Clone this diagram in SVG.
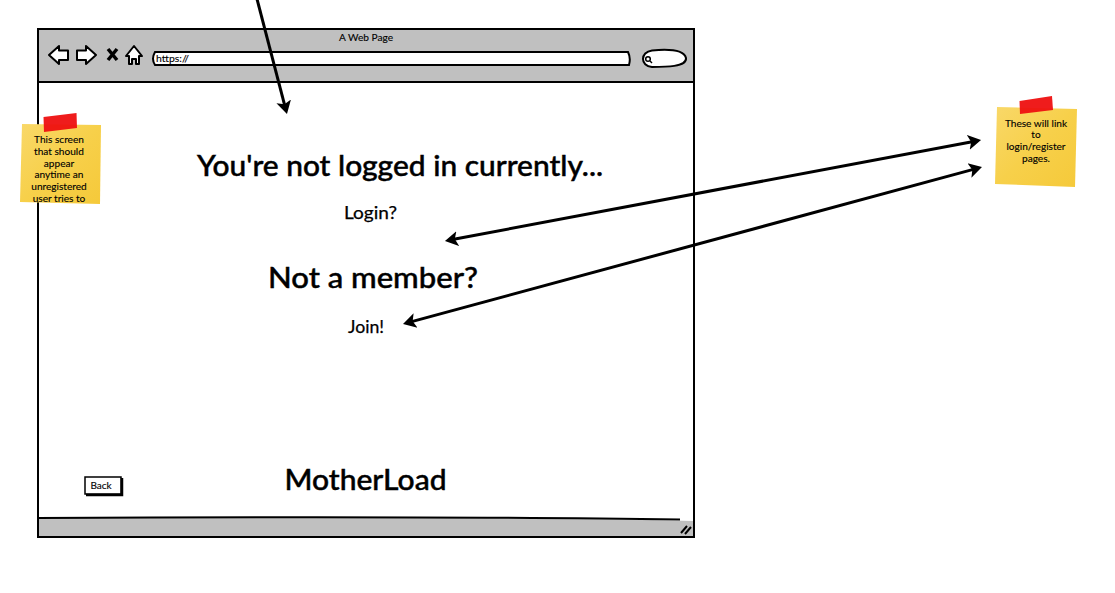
<svg xmlns="http://www.w3.org/2000/svg" width="1115" height="593" viewBox="0 0 1115 593">
<defs>
<marker id="ah" markerUnits="userSpaceOnUse" markerWidth="18" markerHeight="18" viewBox="0 0 18 18" refX="4" refY="9" orient="auto-start-reverse"><path d="M0 1.500 L13 9 L0 16.500 L3 9 Z" fill="#000"/></marker>
<linearGradient id="sticky" x1="0" y1="0" x2="1" y2="1"><stop offset="0" stop-color="#f9d869"/><stop offset=".5" stop-color="#f7d04a"/><stop offset="1" stop-color="#f5c93a"/></linearGradient>
</defs>
<style>
text{font-family:"Lato","Noto Sans","Liberation Sans",sans-serif;fill:#000;text-anchor:middle;stroke:#000;stroke-width:.2}
.big{font-size:29px;font-weight:500;stroke-width:.45}
.mid{font-size:17px;stroke-width:.25}
.note{font-size:10.100px;stroke-width:.12}
.small{font-size:10px;stroke-width:.12}
.ui{fill:none;stroke:#000;stroke-width:2}
.bar{fill:#c0c0c0}
.tape{fill:#ee1010;fill-opacity:.95}
.cn{fill:none;stroke:#000;stroke-width:3}
</style>
<rect width="1115" height="593" fill="#fff"/>
<g id="browser-window">
<rect x="38" y="29" width="656" height="508" fill="#fff"/>
<rect class="bar" x="38" y="29" width="656" height="53"/>
<path class="bar" d="M38 518 C250 517 520 517 694 521 V537 H38 Z"/>
<path class="ui" d="M38 29 H694 V537 H38 Z"/>
<path class="ui" d="M38 82 H694"/>
<path class="ui" d="M38 518 C250 517 520 517 680 519.500"/>
<path d="M681 533 L687 526 M685 534 L691 527" fill="none" stroke="#000" stroke-width="2"/>
<text class="small" x="366" y="41" textLength="54" lengthAdjust="spacingAndGlyphs">A Web Page</text>
</g>
<g id="browser-controls">
<path d="M49 55 L59 46 V50.500 H68 V60 H59 V64 Z" fill="#fff" stroke="#000" stroke-width="2" stroke-linejoin="round"/>
<path d="M96 55 L86 46 V50.500 H77 V60 H86 V64 Z" fill="#fff" stroke="#000" stroke-width="2" stroke-linejoin="round"/>
<path d="M108 49 L117 60 M117 49 L108 60" fill="none" stroke="#000" stroke-width="3.500"/>
<path d="M126 56 L134 46 L142 56 H139 V64 H136 V59 H132 V64 H129 V56 Z" fill="#fff" stroke="#000" stroke-width="2" stroke-linejoin="round"/>
</g>
<g id="address-bar">
<path d="M155 52 H628 Q631 58 629 65 L155 65 Q151 59 155 52 Z" fill="#fff" stroke="#000" stroke-width="2"/>
<text class="small" x="172.500" y="62" textLength="33" lengthAdjust="spacingAndGlyphs">https://</text>
</g>
<g id="search-box">
<path d="M652 50.500 C668 49 684 50 686 58 C687 67 665 67 652 67 C640 66 640 52 652 50.500 Z" fill="#fff" stroke="#000" stroke-width="2"/>
<circle cx="648" cy="59" r="2.300" fill="none" stroke="#000" stroke-width="1.500"/>
<path d="M650 61 L652 63" stroke="#000" stroke-width="1.500"/>
</g>
<g id="heading-not-logged-in"><text class="big" x="400" y="176" textLength="406" lengthAdjust="spacingAndGlyphs">You're not logged in currently...</text></g>
<g id="login-link"><text class="mid" x="370.500" y="219" textLength="53" lengthAdjust="spacingAndGlyphs">Login?</text></g>
<g id="heading-not-member"><text class="big" x="373" y="288" textLength="210" lengthAdjust="spacingAndGlyphs">Not a member?</text></g>
<g id="join-link"><text class="mid" x="366" y="333" textLength="36" lengthAdjust="spacingAndGlyphs">Join!</text></g>
<g id="motherload-title"><text class="big" x="365.500" y="490" textLength="162" lengthAdjust="spacingAndGlyphs">MotherLoad</text></g>
<g id="back-button">
<rect x="85" y="477" width="36" height="17" fill="#fff" stroke="#000" stroke-width="1.500"/>
<path d="M122 478 V495 H86" fill="none" stroke="#000" stroke-width="2.500"/>
<text class="small" x="101" y="489">Back</text>
</g>
<g id="sticky-left">
<path d="M22 124 L101 125 L100 204 L20 202 Z" fill="url(#sticky)"/>
<path class="tape" d="M43.500 117 L76.500 113 L77 128 L44 132 Z"/>
<text class="note" x="59" y="143">This screen</text>
<text class="note" x="59" y="155">that should</text>
<text class="note" x="59" y="167">appear</text>
<text class="note" x="59" y="178">anytime an</text>
<text class="note" x="59" y="190">unregistered</text>
<text class="note" x="59" y="202">user tries to</text>
</g>
<g id="sticky-right">
<path d="M997 107 L1077 109 L1075 187 L995 184 Z" fill="url(#sticky)"/>
<path class="tape" d="M1019.500 101 L1052 96 L1053 110 L1020 114 Z"/>
<text class="note" x="1036" y="127">These will link</text>
<text class="note" x="1036" y="138">to</text>
<text class="note" x="1036" y="150">login/register</text>
<text class="note" x="1036" y="162">pages.</text>
</g>
<g id="connectors">
<path class="cn" d="M257 -1 L284.700 105.300" marker-end="url(#ah)"/>
<path class="cn" d="M972.200 141.700 L453.800 239.300" marker-start="url(#ah)" marker-end="url(#ah)"/>
<path class="cn" d="M973.300 169.400 L411.700 321.600" marker-start="url(#ah)" marker-end="url(#ah)"/>
</g>
</svg>
